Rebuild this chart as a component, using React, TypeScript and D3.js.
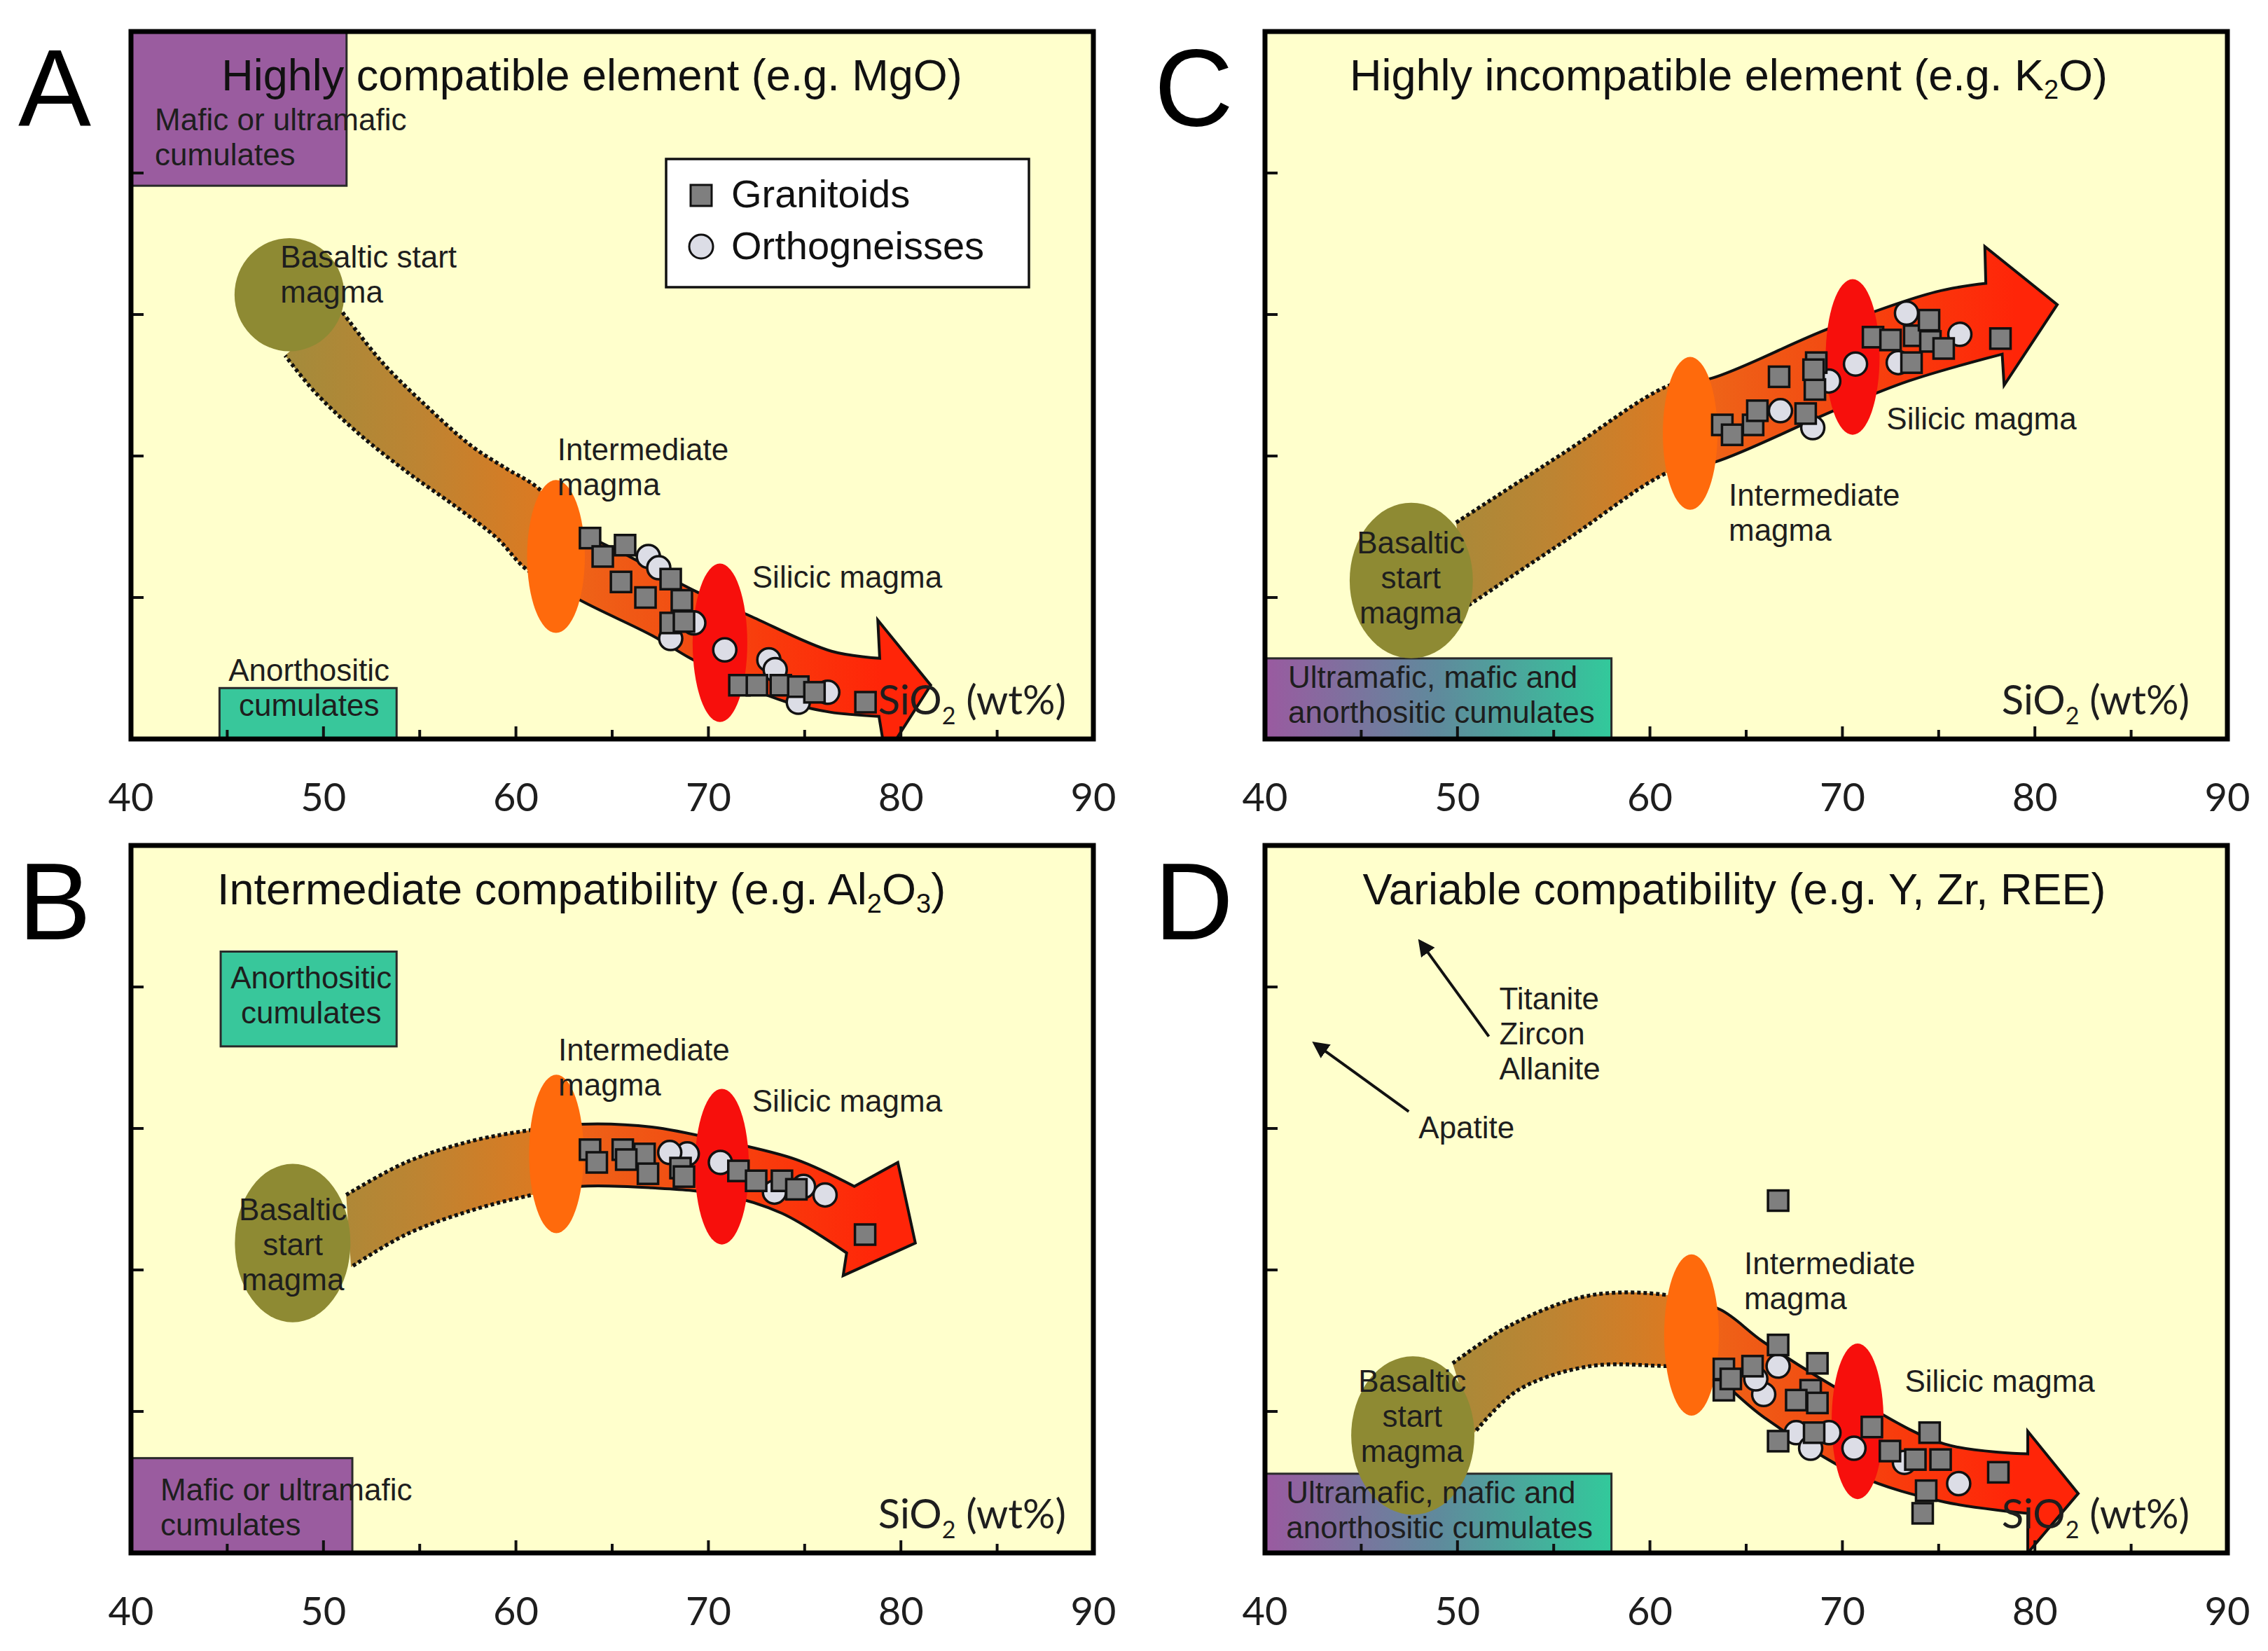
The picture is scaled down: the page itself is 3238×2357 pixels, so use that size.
import React from "react";
import * as d3 from "d3";

type Pt = [number, number];

const W = 3238;
const H = 2357;
const PW = 1374;
const PH = 1010;

const FONT = "'Liberation Sans', Arial, sans-serif";
const NUM_FONT = "Lato, 'Open Sans', sans-serif";

const xTickLabels = [40, 50, 60, 70, 80, 90];
const xMinorTicks = [45, 55, 65, 75, 85];
const yTicks = [1, 2, 3, 4];

// colours of the arrow along SiO2
const arrowStops: [number, string][] = [
  [48, "#a38b3b"], [55, "#bd8432"], [61, "#da7a22"], [63, "#ee6418"],
  [69, "#f24c12"], [73, "#f93b0c"], [79, "#ff2508"],
];

// ---------- A: MgO ----------
const titleA: [string, boolean][] = [["Highly compatible element (e.g. MgO)", false]];
const granitoidsA: Pt[] = [
  [63.85, 1.42], [65.67, 1.37], [64.51, 1.29], [65.46, 1.11], [68.04, 1.13], [66.73, 1.0],
  [68.62, 0.98], [68.04, 0.82], [68.73, 0.83], [71.61, 0.38], [72.52, 0.38], [73.76, 0.38],
  [74.67, 0.37], [75.51, 0.33], [78.16, 0.26],
];
const orthogneissesA: Pt[] = [
  [66.88, 1.29], [67.42, 1.21], [69.24, 0.82], [68.04, 0.71], [70.85, 0.63], [73.14, 0.56],
  [73.47, 0.49], [76.2, 0.33], [74.67, 0.26],
];
const arrowUpperA: Pt[] = [[50.8, 3.05], [53.0, 2.67], [55.37, 2.35], [57.7, 2.07], [59.52, 1.91], [61.09, 1.78], [63.27, 1.48], [65.89, 1.29], [69.39, 1.04], [72.16, 0.87], [76.4, 0.62], [78.9, 0.57]];
const arrowLowerA: Pt[] = [[48.01, 2.71], [49.5, 2.46], [51.73, 2.17], [54.31, 1.89], [56.9, 1.64], [59.01, 1.42], [60.54, 1.2], [63.49, 0.97], [67.09, 0.73], [69.06, 0.57], [71.97, 0.37], [74.09, 0.26], [76.31, 0.19], [78.86, 0.16]];
const arrowHeadA: Pt[] = [[78.8, 0.84], [81.55, 0.38], [79.2, -0.12]];
const basaltA = [48.23, 3.14, 2.85, 0.4];
const intermediateA = [62.08, 1.29, 1.5, 0.54];
const silicicA = [70.6, 0.68, 1.42, 0.56];

// ---------- C: K2O ----------
const titleC: [string, boolean][] = [["Highly incompatible element (e.g. K", false], ["2", true], ["O)", false]];
const granitoidsC: Pt[] = [
  [63.76, 2.22], [64.27, 2.15], [65.36, 2.22], [65.58, 2.32], [66.71, 2.56], [68.64, 2.66],
  [68.57, 2.47], [68.09, 2.3], [71.59, 2.84], [72.5, 2.82], [73.73, 2.85], [74.5, 2.96],
  [74.57, 2.81], [75.26, 2.76], [73.59, 2.66], [78.21, 2.83], [68.5, 2.61],
];
const orthogneissesC: Pt[] = [
  [70.68, 2.65], [73.33, 3.01], [76.1, 2.86], [68.46, 2.2], [72.9, 2.66], [69.29, 2.53], [66.78, 2.32],
];
const arrowUpperC: Pt[] = [[49.93, 1.53], [55.5, 2.02], [61.03, 2.5], [63.22, 2.55], [69.29, 2.9], [74.86, 3.16], [77.45, 3.22]];
const arrowLowerC: Pt[] = [[50.52, 0.94], [55.8, 1.42], [61.03, 1.89], [63.44, 1.96], [69.55, 2.32], [73.44, 2.53], [78.3, 2.72]];
const arrowHeadC: Pt[] = [[77.4, 3.48], [81.16, 3.07], [78.4, 2.5]];
const basaltC = [47.6, 1.12, 3.2, 0.55];
const intermediateC = [62.09, 2.16, 1.42, 0.54];
const silicicC = [70.53, 2.7, 1.4, 0.55];

// ---------- B: Al2O3 ----------
const titleB: [string, boolean][] = [["Intermediate compatibility (e.g. Al", false], ["2", true], ["O", false], ["3", true], [")", false]];
const granitoidsB: Pt[] = [
  [63.85, 2.85], [65.55, 2.85], [66.68, 2.82], [64.2, 2.76], [66.86, 2.68], [68.55, 2.72],
  [68.73, 2.66], [71.56, 2.7], [72.48, 2.63], [73.82, 2.63], [74.57, 2.57], [78.14, 2.25], [65.73, 2.78],
];
const orthogneissesB: Pt[] = [
  [70.62, 2.76], [68.9, 2.82], [67.99, 2.83], [73.43, 2.55], [76.06, 2.53], [74.94, 2.59],
];
const arrowUpperB: Pt[] = [[51.18, 2.53], [54.28, 2.76], [57.66, 2.91], [60.83, 2.99], [63.3, 3.03], [67.06, 3.01], [70.8, 2.91], [74.56, 2.78], [77.58, 2.59]];
const arrowLowerB: Pt[] = [[51.43, 2.02], [54.28, 2.25], [57.66, 2.42], [60.83, 2.53], [63.3, 2.59], [67.06, 2.58], [70.8, 2.53], [73.83, 2.4], [77.18, 2.12]];
const arrowHeadB: Pt[] = [[79.84, 2.76], [80.75, 2.19], [77.0, 1.96]];
const basaltB = [48.4, 2.19, 3.0, 0.56];
const intermediateB = [62.1, 2.82, 1.42, 0.56];
const silicicB = [70.7, 2.73, 1.4, 0.55];

// ---------- D: Y, Zr, REE ----------
const titleD: [string, boolean][] = [["Variable compatibility (e.g. Y, Zr, REE)", false]];
const granitoidsD: Pt[] = [
  [66.66, 2.49], [63.84, 1.3], [63.84, 1.15], [65.33, 1.32], [66.66, 1.47], [68.7, 1.34],
  [68.35, 1.15], [68.7, 1.06], [67.6, 1.08], [66.66, 0.79], [68.53, 0.85], [71.53, 0.89],
  [72.47, 0.72], [73.79, 0.66], [74.53, 0.85], [75.1, 0.66], [74.35, 0.44], [74.17, 0.28],
  [78.1, 0.57], [64.2, 1.23],
];
const orthogneissesD: Pt[] = [
  [66.66, 1.32], [65.91, 1.12], [65.5, 1.23], [67.6, 0.85], [68.35, 0.74], [69.3, 0.85],
  [70.6, 0.74], [76.04, 0.49], [73.22, 0.64],
];
const arrowUpperD: Pt[] = [[49.75, 1.34], [52.77, 1.61], [56.88, 1.82], [61.03, 1.82], [63.65, 1.72], [65.91, 1.49], [70.79, 1.08], [75.3, 0.77], [79.63, 0.7]];
const arrowLowerD: Pt[] = [[50.88, 0.85], [53.14, 1.15], [56.88, 1.32], [61.03, 1.32], [62.53, 1.32], [65.91, 0.96], [70.79, 0.55], [75.3, 0.36], [79.63, 0.28]];
const arrowHeadD: Pt[] = [[79.63, 0.86], [82.25, 0.42], [79.63, 0.0]];
const basaltD = [47.68, 0.83, 3.2, 0.56];
const intermediateD = [62.16, 1.54, 1.42, 0.57];
const silicicD = [70.79, 0.93, 1.35, 0.55];
const mineralPointersD: [Pt, Pt][] = [
  [[51.63, 3.65], [48.06, 4.32]],
  [[47.47, 3.12], [42.59, 3.6]],
];

type Box = { x0: number; x1: number; y0: number; y1: number; fill: "purple" | "teal" | "grad" };
type Note = { lines: string[]; x: number; y: number; anchor: "start" | "middle" };

const boxesA: Box[] = [
  { x0: 40, x1: 51.2, y0: 3.91, y1: 5, fill: "purple" },
  { x0: 44.6, x1: 53.8, y0: 0, y1: 0.36, fill: "teal" },
];
const boxesC: Box[] = [{ x0: 40, x1: 58.0, y0: 0, y1: 0.57, fill: "grad" }];
const boxesB: Box[] = [
  { x0: 44.66, x1: 53.8, y0: 3.58, y1: 4.25, fill: "teal" },
  { x0: 40, x1: 51.5, y0: 0, y1: 0.67, fill: "purple" },
];
const boxesD: Box[] = [{ x0: 40, x1: 58.0, y0: 0, y1: 0.56, fill: "grad" }];

const notesA: Note[] = [
  { lines: ["Mafic or ultramafic", "cumulates"], x: 41.24, y: 4.3, anchor: "start" },
  { lines: ["Basaltic start", "magma"], x: 47.76, y: 3.33, anchor: "start" },
  { lines: ["Intermediate", "magma"], x: 62.15, y: 1.97, anchor: "start" },
  { lines: ["Silicic magma"], x: 72.27, y: 1.07, anchor: "start" },
  { lines: ["Anorthositic", "cumulates"], x: 49.25, y: 0.41, anchor: "middle" },
];
const notesC: Note[] = [
  { lines: ["Basaltic", "start", "magma"], x: 47.58, y: 1.31, anchor: "middle" },
  { lines: ["Intermediate", "magma"], x: 64.09, y: 1.65, anchor: "start" },
  { lines: ["Silicic magma"], x: 72.29, y: 2.19, anchor: "start" },
  { lines: ["Ultramafic, mafic and", "anorthositic cumulates"], x: 41.2, y: 0.36, anchor: "start" },
];
const notesB: Note[] = [
  { lines: ["Anorthositic", "cumulates"], x: 49.36, y: 3.99, anchor: "middle" },
  { lines: ["Intermediate", "magma"], x: 62.2, y: 3.48, anchor: "start" },
  { lines: ["Silicic magma"], x: 72.27, y: 3.12, anchor: "start" },
  { lines: ["Basaltic", "start", "magma"], x: 48.41, y: 2.35, anchor: "middle" },
  { lines: ["Mafic or ultramafic", "cumulates"], x: 41.53, y: 0.37, anchor: "start" },
];
const notesD: Note[] = [
  { lines: ["Titanite", "Zircon", "Allanite"], x: 52.17, y: 3.84, anchor: "start" },
  { lines: ["Apatite"], x: 47.98, y: 2.93, anchor: "start" },
  { lines: ["Intermediate", "magma"], x: 64.89, y: 1.97, anchor: "start" },
  { lines: ["Silicic magma"], x: 73.24, y: 1.14, anchor: "start" },
  { lines: ["Basaltic", "start", "magma"], x: 47.65, y: 1.14, anchor: "middle" },
  { lines: ["Ultramafic, mafic and", "anorthositic cumulates"], x: 41.1, y: 0.35, anchor: "start" },
];

type PanelCfg = {
  letter: string; left: number; top: number; title: [string, boolean][]; titleCx: number;
  granitoids: Pt[]; orthogneisses: Pt[]; upper: Pt[]; lower: Pt[]; head: Pt[];
  basalt: number[]; intermediate: number[]; silicic: number[];
  boxes: Box[]; notes: Note[]; pointers: [Pt, Pt][]; legend: boolean; axisEnd: number;
};

const panels: PanelCfg[] = [
  { letter: "A", left: 187, top: 45, title: titleA, titleCx: 658, granitoids: granitoidsA, orthogneisses: orthogneissesA,
    upper: arrowUpperA, lower: arrowLowerA, head: arrowHeadA, basalt: basaltA, intermediate: intermediateA, silicic: silicicA,
    boxes: boxesA, notes: notesA, pointers: [], legend: true, axisEnd: 1335 },
  { letter: "C", left: 1806, top: 45, title: titleC, titleCx: 662, granitoids: granitoidsC, orthogneisses: orthogneissesC,
    upper: arrowUpperC, lower: arrowLowerC, head: arrowHeadC, basalt: basaltC, intermediate: intermediateC, silicic: silicicC,
    boxes: boxesC, notes: notesC, pointers: [], legend: false, axisEnd: 1320 },
  { letter: "B", left: 187, top: 1207, title: titleB, titleCx: 643, granitoids: granitoidsB, orthogneisses: orthogneissesB,
    upper: arrowUpperB, lower: arrowLowerB, head: arrowHeadB, basalt: basaltB, intermediate: intermediateB, silicic: silicicB,
    boxes: boxesB, notes: notesB, pointers: [], legend: false, axisEnd: 1335 },
  { letter: "D", left: 1806, top: 1207, title: titleD, titleCx: 670, granitoids: granitoidsD, orthogneisses: orthogneissesD,
    upper: arrowUpperD, lower: arrowLowerD, head: arrowHeadD, basalt: basaltD, intermediate: intermediateD, silicic: silicicD,
    boxes: boxesD, notes: notesD, pointers: mineralPointersD, legend: false, axisEnd: 1320 },
];

const SPLIT = 62; // dotted outline before the intermediate magma, solid after
const SQ = 29;
const CR = 16.5;

function Panel({ cfg }: { cfg: PanelCfg }) {
  const id = cfg.letter;
  const x = d3.scaleLinear().domain([40, 90]).range([cfg.left, cfg.left + PW]);
  const y = d3.scaleLinear().domain([0, 5]).range([cfg.top + PH, cfg.top]);
  const edge = d3.line<Pt>().x(d => x(d[0])).y(d => y(d[1])).curve(d3.curveCatmullRom.alpha(0.5));
  const up = edge(cfg.upper) as string;
  const lowRev = edge([...cfg.lower].reverse()) as string;
  const head = cfg.head.map(h => `L${x(h[0])},${y(h[1])}`).join("");
  const outline = up + head + "L" + lowRev.slice(1);
  const splitPx = x(SPLIT);
  const bottom = cfg.top + PH;

  const ell = (e: number[], fill: string) => (
    <ellipse cx={x(e[0])} cy={y(e[1])} rx={x(e[0] + e[2]) - x(e[0])} ry={y(e[1]) - y(e[1] + e[3])} fill={fill} />
  );
  const boxFill = (b: Box) => (b.fill === "purple" ? "#9a5c9f" : b.fill === "teal" ? "#38c79b" : `url(#cum-${id})`);

  return (
    <g>
      <defs>
        <clipPath id={`frame-${id}`}><rect x={cfg.left} y={cfg.top} width={PW} height={PH} /></clipPath>
        <clipPath id={`tail-${id}`}><rect x={cfg.left} y={cfg.top} width={splitPx - cfg.left} height={PH} /></clipPath>
        <clipPath id={`body-${id}`}><rect x={splitPx} y={cfg.top} width={cfg.left + PW - splitPx} height={PH} /></clipPath>
        <linearGradient id={`arrow-${id}`} gradientUnits="userSpaceOnUse" x1={x(48)} x2={x(81)} y1={0} y2={0}>
          {arrowStops.map(([v, c]) => (
            <stop key={v} offset={(v - 48) / (81 - 48)} stopColor={c} />
          ))}
        </linearGradient>
        <linearGradient id={`cum-${id}`} x1="0" x2="1" y1="0" y2="0">
          <stop offset="0" stopColor="#9a5aa0" />
          <stop offset="0.5" stopColor="#5f8a9c" />
          <stop offset="1" stopColor="#32c99b" />
        </linearGradient>
      </defs>

      <rect x={cfg.left} y={cfg.top} width={PW} height={PH} fill="#ffffcc" />

      <g clipPath={`url(#frame-${id})`}>
        {cfg.boxes.map((b, i) => (
          <rect key={i} x={x(b.x0)} y={y(b.y1)} width={x(b.x1) - x(b.x0)} height={y(b.y0) - y(b.y1)}
            fill={boxFill(b)} stroke="#2a2a2a" strokeWidth={3} />
        ))}
        <path d={outline + "Z"} fill={`url(#arrow-${id})`} />
        <g clipPath={`url(#tail-${id})`}>
          <path d={outline} fill="none" stroke="#111" strokeWidth={5.5} strokeDasharray="5 4" />
        </g>
        <g clipPath={`url(#body-${id})`}>
          <path d={outline} fill="none" stroke="#111" strokeWidth={4} strokeLinejoin="miter" />
        </g>
        {ell(cfg.basalt, "#8e8a33")}
        {ell(cfg.intermediate, "#ff6a0c")}
        {ell(cfg.silicic, "#f70f0c")}
        {cfg.orthogneisses.map((p, i) => (
          <circle key={`o${i}`} cx={x(p[0])} cy={y(p[1])} r={CR} fill="#dcdde6" stroke="#111" strokeWidth={3.5} />
        ))}
        {cfg.granitoids.map((p, i) => (
          <rect key={`g${i}`} x={x(p[0]) - SQ / 2} y={y(p[1]) - SQ / 2} width={SQ} height={SQ}
            fill="#7f7f7f" stroke="#111" strokeWidth={3.5} />
        ))}
      </g>

      {cfg.pointers.map(([a, b], i) => (
        <line key={i} x1={x(a[0])} y1={y(a[1])} x2={x(b[0])} y2={y(b[1])} stroke="#111" strokeWidth={4}
          markerEnd="url(#pointer-head)" />
      ))}

      {cfg.notes.map((n, i) => (
        <text key={i} x={x(n.x)} y={y(n.y)} textAnchor={n.anchor} fontFamily={FONT} fontSize={44} fill="#1e1e1e">
          {n.lines.map((l, j) => (
            <tspan key={j} x={x(n.x)} dy={j === 0 ? 0 : 50}>{l}</tspan>
          ))}
        </text>
      ))}

      {cfg.legend && (
        <g>
          <rect x={cfg.left + 764} y={cfg.top + 182} width={518} height={183} fill="#fff" stroke="#111" strokeWidth={3.5} />
          <rect x={cfg.left + 799} y={cfg.top + 219} width={30} height={30} fill="#7f7f7f" stroke="#111" strokeWidth={3} />
          <text x={cfg.left + 857} y={cfg.top + 251} fontFamily={FONT} fontSize={56} fill="#111">Granitoids</text>
          <circle cx={cfg.left + 814} cy={cfg.top + 307} r={17} fill="#dcdde6" stroke="#111" strokeWidth={3} />
          <text x={cfg.left + 857} y={cfg.top + 325} fontFamily={FONT} fontSize={56} fill="#111">Orthogneisses</text>
        </g>
      )}

      <text x={cfg.left + cfg.axisEnd} y={cfg.top + 975} textAnchor="end" fontFamily={NUM_FONT} fontSize={58} fill="#1e1e1e">
        SiO<tspan fontSize={34} dy={14}>2</tspan><tspan dy={-14}> (wt%)</tspan>
      </text>

      {yTicks.map(t => (
        <line key={`y${t}`} x1={cfg.left} x2={cfg.left + 18} y1={y(t)} y2={y(t)} stroke="#111" strokeWidth={4} />
      ))}
      {xTickLabels.map(t => (
        <line key={`xM${t}`} x1={x(t)} x2={x(t)} y1={bottom} y2={bottom - 18} stroke="#111" strokeWidth={4} />
      ))}
      {xMinorTicks.map(t => (
        <line key={`xm${t}`} x1={x(t)} x2={x(t)} y1={bottom} y2={bottom - 13} stroke="#111" strokeWidth={4} />
      ))}

      <rect x={cfg.left} y={cfg.top} width={PW} height={PH} fill="none" stroke="#000" strokeWidth={7} />

      {xTickLabels.map(t => (
        <text key={`l${t}`} x={x(t)} y={bottom + 103} textAnchor="middle" fontFamily={NUM_FONT} fontSize={56} fill="#1e1e1e">
          {t}
        </text>
      ))}

      <text x={cfg.left < 1000 ? 26 : 1648} y={cfg.top + 134} fontFamily={FONT} fontSize={156} fill="#000">
        {cfg.letter}
      </text>

      <text x={cfg.left + cfg.titleCx} y={cfg.top + 84} textAnchor="middle" fontFamily={FONT} fontSize={63} fill="#111">
        {cfg.title.map(([s, sub], i) =>
          sub ? (
            <tspan key={i} fontSize={38} dy={12}>{s}</tspan>
          ) : (
            <tspan key={i} dy={i > 0 && cfg.title[i - 1][1] ? -12 : 0}>{s}</tspan>
          )
        )}
      </text>
    </g>
  );
}

export default function App() {
  return (
    <svg width={W} height={H} viewBox={`0 0 ${W} ${H}`}
      style={{ position: "absolute", left: 0, top: 0, background: "#fff" }}>
      <defs>
        <marker id="pointer-head" viewBox="0 0 10 10" refX="8" refY="5" markerWidth="6" markerHeight="6" orient="auto">
          <path d="M0,0L10,5L0,10z" fill="#111" />
        </marker>
      </defs>
      <rect width={W} height={H} fill="#fff" />
      {panels.map(p => (
        <Panel key={p.letter} cfg={p} />
      ))}
    </svg>
  );
}
